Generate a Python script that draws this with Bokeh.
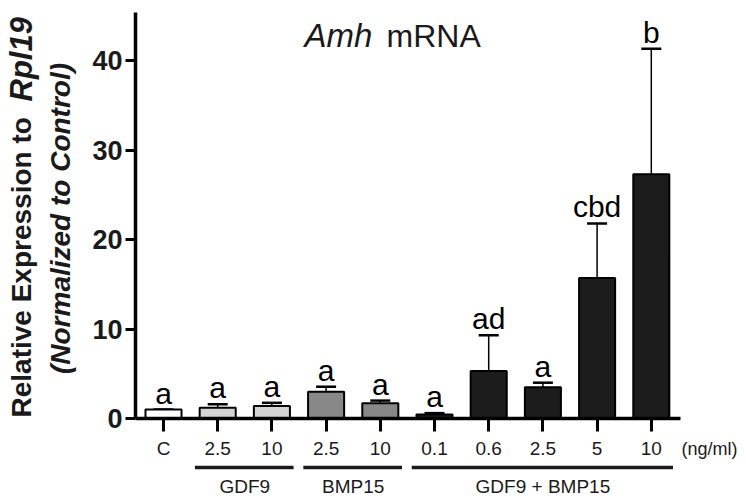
import math
from bokeh.plotting import figure
from bokeh.models import (Range1d, FixedTicker, Whisker, TeeHead, ColumnDataSource,
                          Label, LabelSet, Arrow)
from bokeh.core.properties import value
from bokeh.embed import file_html
from bokeh.resources import INLINE

# ---------------- data ----------------
categories = ["C", "2.5", "10", "2.5", "10", "0.1", "0.6", "2.5", "5", "10"]
groups = ["", "GDF9", "GDF9", "BMP15", "BMP15",
          "GDF9 + BMP15", "GDF9 + BMP15", "GDF9 + BMP15", "GDF9 + BMP15", "GDF9 + BMP15"]
means = [1.0, 1.2, 1.4, 3.0, 1.7, 0.45, 5.3, 3.5, 15.7, 27.3]
errors = [0.0, 0.4, 0.35, 0.55, 0.3, 0.15, 4.0, 0.5, 6.1, 14.0]
letters = ["a", "a", "a", "a", "a", "a", "ad", "a", "cbd", "b"]
colors = ["#ffffff", "#d4d4d4", "#d4d4d4", "#888888", "#888888",
          "#1c1c1c", "#1c1c1c", "#1c1c1c", "#1c1c1c", "#1c1c1c"]
y_ticks = [0, 10, 20, 30, 40]
unit_label = "(ng/ml)"

FONT = "Liberation Sans"
W, H = 746, 503
# layout: pixel position of first bar centre, bar pitch, pixel of y=0, pixels per unit
X0_PX, PITCH, Y0_PX, PPU = 163.0, 54.2, 418.0, 8.95
AX_LEFT_PX, AX_RIGHT_PX, AX_TOP_PX = 135.0, 680.0, 12.0

def dx(px):
    return (px - X0_PX) / PITCH

def dy(py):
    return (Y0_PX - py) / PPU

idx = list(range(len(categories)))
upper = [m + e for m, e in zip(means, errors)]
src = ColumnDataSource(dict(x=idx, top=means, lower=means, upper=upper,
                            color=colors, letter=letters))

p = figure(width=W, height=H, output_backend="svg", toolbar_location=None,
           x_range=Range1d(dx(0), dx(W)), y_range=Range1d(dy(H), dy(0)),
           min_border=0)
p.title.visible = False
p.outline_line_color = None
p.xgrid.visible = False
p.ygrid.visible = False
p.background_fill_color = "white"
p.border_fill_color = "white"

# pixel-coordinate helper ranges for texts placed around the plotting area
p.extra_x_ranges = {"px": Range1d(0, W)}
p.extra_y_ranges = {"px": Range1d(H, 0)}

# bars
p.vbar(x="x", top="top", width=0.665, source=src, fill_color="color",
       line_color="black", line_width=2)

# error bars (upper only)
p.add_layout(Whisker(base="x", lower="lower", upper="upper", source=src,
                     line_color="black", line_width=1.5, lower_head=None,
                     upper_head=TeeHead(size=20, line_width=2.5, line_color="black")))

# significance letters
p.add_layout(LabelSet(x="x", y="upper", text="letter", source=src, y_offset=6,
                      text_align="center", text_baseline="alphabetic",
                      text_font=value(FONT), text_font_size="30px", text_color="black"))

# y axis
ya = p.yaxis[0]
ya.fixed_location = dx(AX_LEFT_PX)
ya.bounds = (0, dy(AX_TOP_PX))
ya.ticker = FixedTicker(ticks=y_ticks)
ya.axis_line_width = 3.5
ya.major_tick_line_width = 3
ya.major_tick_out = 10
ya.major_tick_in = 0
ya.minor_tick_line_color = None
ya.major_label_standoff = 3
ya.major_label_text_font = FONT
ya.major_label_text_font_style = "bold"
ya.major_label_text_font_size = "27px"
ya.major_label_text_color = "#1a1a1a"

# x axis
xa = p.xaxis[0]
xa.fixed_location = 0
xa.bounds = (dx(AX_LEFT_PX), dx(AX_RIGHT_PX))
xa.ticker = FixedTicker(ticks=idx)
xa.major_label_overrides = {i: c for i, c in zip(idx, categories)}
xa.axis_line_width = 3.5
xa.major_tick_line_width = 3
xa.major_tick_out = 13
xa.major_tick_in = 0
xa.minor_tick_line_color = None
xa.major_label_standoff = 6
xa.major_label_text_font = FONT
xa.major_label_text_font_size = "19px"
xa.major_label_text_color = "#1a1a1a"

# unit label
p.add_layout(Label(x=681, y=448, text=unit_label, x_range_name="px", y_range_name="px",
                   text_align="left", text_baseline="middle", text_font=FONT,
                   text_font_size="18px", text_color="#1a1a1a"))

# group underlines and labels
seen = []
for g in groups:
    if g and g not in seen:
        seen.append(g)
for g in seen:
    members = [i for i, gg in zip(idx, groups) if gg == g]
    x0, x1 = members[0] - 0.42, members[-1] + 0.40
    p.add_layout(Arrow(end=None, x_start=x0, x_end=x1, y_start=467, y_end=467,
                       y_range_name="px", line_width=3.5, line_color="#1a1a1a"))
    p.add_layout(Label(x=(members[0] + members[-1]) / 2, y=486, text=g, y_range_name="px",
                       text_align="center", text_baseline="middle", text_font=FONT,
                       text_font_size="19px", text_color="#1a1a1a"))

# title: "Amh mRNA" with Amh italic
p.add_layout(Label(x=304, y=35, text="Amh", x_range_name="px", y_range_name="px",
                   text_align="left", text_baseline="alphabetic", text_font=FONT,
                   text_font_style="italic", text_font_size="33px", text_color="#1a1a1a"))
p.add_layout(Label(x=386, y=35, text="mRNA", x_range_name="px", y_range_name="px",
                   text_align="left", text_baseline="alphabetic", text_font=FONT,
                   text_font_size="32px", text_color="#1a1a1a"))

# y axis title (two lines, mixed styles)
p.add_layout(Label(x=21, y=417, text="Relative Expression to", angle=math.pi / 2,
                   x_range_name="px", y_range_name="px", text_align="left",
                   text_baseline="middle", text_font=FONT, text_font_style="bold",
                   text_font_size="28px", text_color="#1a1a1a"))
p.add_layout(Label(x=21, y=101, text="Rpl19", angle=math.pi / 2,
                   x_range_name="px", y_range_name="px", text_align="left",
                   text_baseline="middle", text_font=FONT, text_font_style="bold italic",
                   text_font_size="31px", text_color="#1a1a1a"))
p.add_layout(Label(x=60, y=218, text="(Normalized to Control)", angle=math.pi / 2,
                   x_range_name="px", y_range_name="px", text_align="center",
                   text_baseline="middle", text_font=FONT, text_font_style="bold italic",
                   text_font_size="28px", text_color="#1a1a1a"))

open("out.html", "w").write(file_html(p, INLINE))
